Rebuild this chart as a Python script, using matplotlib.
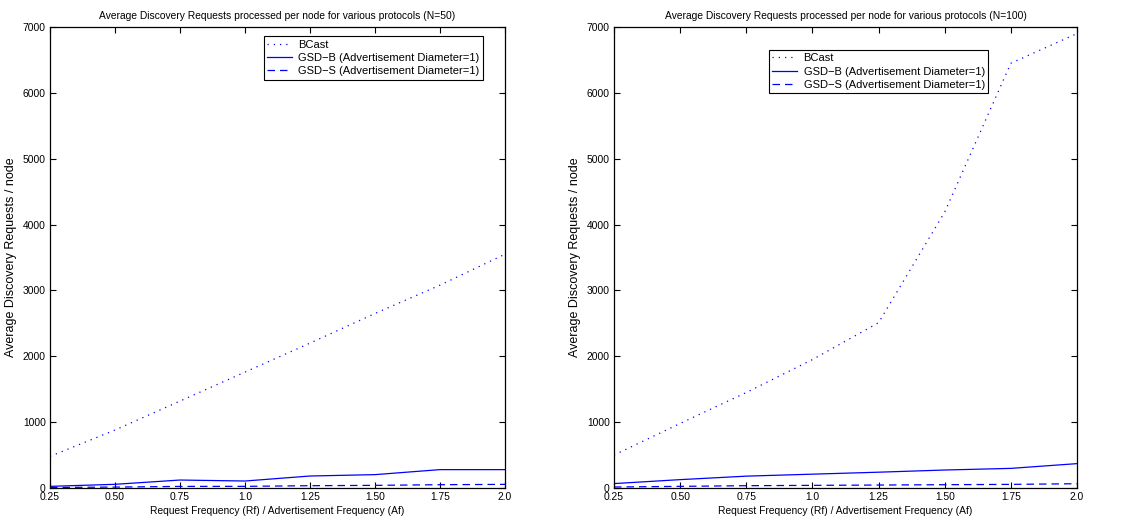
import numpy as np
import matplotlib
matplotlib.use("Agg")
import matplotlib.pyplot as plt

plt.rcParams['font.family'] = ['Liberation Sans', 'DejaVu Sans']
plt.rcParams['font.size'] = 7.4

# ratio Rf / Af
freq = [0.25, 0.5, 0.75, 1.0, 1.25, 1.5, 1.75, 2.0]
freq_labels = ["0.25", "0.50", "0.75", "1.0", "1.25", "1.50", "1.75", "2.0"]

# N=50
bcast_50 = [480, 880, 1320, 1760, 2200, 2650, 3080, 3550]
gsdb_50 = [25, 56, 121, 106, 182, 203, 279, 279]
gsds_50 = [8, 14, 24, 25, 35, 40, 50, 55]

# N=100
bcast_100 = [500, 980, 1450, 1950, 2510, 4190, 6450, 6900]
gsdb_100 = [67, 127, 180, 210, 240, 273, 298, 370]
gsds_100 = [15, 25, 35, 40, 45, 50, 55, 65]

yticks = [0, 1000, 2000, 3000, 4000, 5000, 6000, 7000]

fig = plt.figure(figsize=(11.31, 5.27), dpi=100)

panels = [
    ([50/1131, 39/527, 455/1131, 461/527], bcast_50, gsdb_50, gsds_50,
     "Average Discovery Requests processed per node for various protocols (N=50)", (0.47, 0.98)),
    ([614/1131, 39/527, 463/1131, 461/527], bcast_100, gsdb_100, gsds_100,
     "Average Discovery Requests processed per node for various protocols (N=100)", (0.335, 0.95)),
]

for rect, bc, gb, gs, title, legpos in panels:
    ax = fig.add_axes(rect)
    ax.plot(freq, bc, color='blue', linestyle=(0, (1, 4)), linewidth=0.9, label='BCast')
    ax.plot(freq, gb, color='blue', linestyle='-', linewidth=0.9,
            label='GSD\u2212B (Advertisement Diameter=1)')
    ax.plot(freq, gs, color='blue', linestyle=(0, (6, 4)), linewidth=0.9,
            label='GSD\u2212S (Advertisement Diameter=1)')
    ax.set_xlim(0.25, 2.0)
    ax.set_ylim(0, 7000)
    ax.set_xticks(freq)
    ax.set_xticklabels(freq_labels)
    ax.set_yticks(yticks)
    ax.tick_params(direction='in', top=True, right=True, length=4, width=0.8, pad=3)
    for s in ax.spines.values():
        s.set_linewidth(0.9)
    ax.set_title(title, fontsize=7.4, pad=6)
    ax.set_xlabel("Request Frequency (Rf) / Advertisement Frequency (Af)", labelpad=3)
    ax.set_ylabel("Average Discovery Requests / node", labelpad=4, fontsize=9)
    leg = ax.legend(loc='upper left', bbox_to_anchor=legpos, fancybox=False,
                    edgecolor='black', framealpha=1, handlelength=2.2,
                    borderpad=0.3, labelspacing=0.3, handletextpad=0.6,
                    borderaxespad=0, fontsize=8)
    leg.get_frame().set_linewidth(0.8)

fig.savefig("out.png", dpi=100)
